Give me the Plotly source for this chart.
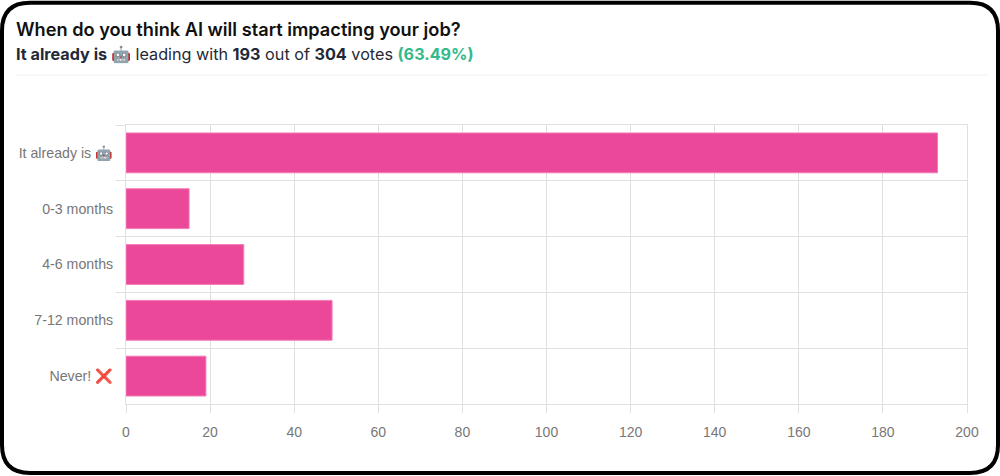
import plotly.graph_objects as go

# poll results
categories = ['It already is 🤖', '0-3 months', '4-6 months', '7-12 months', 'Never! ❌']
votes = [193, 15, 28, 49, 19]
x_ticks = [0, 20, 40, 60, 80, 100, 120, 140, 160, 180, 200]

title_text = 'When do you think AI will start impacting your job?'
subtitle_text = ("<b>It already is 🤖</b> leading with <b>193</b> out of <b>304</b> votes "
                 "<b><span style='color:#34b98a'>(63.49%)</span></b>")

W, H = 1000, 476
L, R, T, B = 126, 33, 124.5, 72


def px(x):
    return (x - L) / (W - L - R)


def py(y):
    return 1 - (y - T) / (H - T - B)


bars = go.Bar(
    x=votes,
    y=categories,
    orientation='h',
    marker=dict(color='#ec4899', line=dict(color='#f47cb8', width=1)),
    hoverinfo='x+y',
)

fig = go.Figure(data=[bars])

# rounded black frame of the card
x0, x1, y0, y1, r = px(2), px(998), py(2), py(473), 28
rx = r / (W - L - R)
ry = r / (H - T - B)
frame = (f'M {x0 + rx} {y0} L {x1 - rx} {y0} Q {x1} {y0} {x1} {y0 - ry} '
         f'L {x1} {y1 + ry} Q {x1} {y1} {x1 - rx} {y1} '
         f'L {x0 + rx} {y1} Q {x0} {y1} {x0} {y1 + ry} '
         f'L {x0} {y0 - ry} Q {x0} {y0} {x0 + rx} {y0} Z')

fig.update_layout(
    width=W,
    height=H,
    margin=dict(l=L, r=R, t=T, b=B),
    paper_bgcolor='white',
    plot_bgcolor='white',
    font=dict(family='Inter, "Noto Sans", sans-serif', color='#737373', size=13),
    bargap=0.286,
    showlegend=False,
    xaxis=dict(
        range=[0, 200],
        tickvals=x_ticks,
        showgrid=True,
        gridcolor='#e0e0e0',
        gridwidth=1,
        zeroline=False,
        showline=True,
        linecolor='#e0e0e0',
        mirror=True,
        ticks='outside',
        ticklen=8,
        tickcolor='#e0e0e0',
        ticklabelstandoff=7,
        tickfont=dict(family='Liberation Sans', size=14, color='#777777'),
    ),
    yaxis=dict(
        autorange='reversed',
        tickson='boundaries',
        showgrid=True,
        gridcolor='#e0e0e0',
        gridwidth=1,
        showline=True,
        linecolor='#e0e0e0',
        mirror=True,
        ticks='outside',
        ticklen=9,
        tickcolor='#e0e0e0',
        ticklabelstandoff=9,
        tickfont=dict(family='Liberation Sans', size=14.2, color='#777777'),
    ),
    shapes=[
        dict(type='path', path=frame, xref='paper', yref='paper',
             line=dict(color='black', width=4), fillcolor='rgba(0,0,0,0)'),
        dict(type='line', xref='paper', yref='paper', x0=px(17), x1=px(988), y0=py(74.5), y1=py(74.5),
             line=dict(color='#f1f1f1', width=1)),
    ],
    annotations=[
        dict(text=title_text, xref='paper', yref='paper', x=px(14), y=py(28), showarrow=False,
             xanchor='left', yanchor='middle', font=dict(size=18.2, color='#111111', weight=600)),
        dict(text=subtitle_text, xref='paper', yref='paper', x=px(14), y=py(53), showarrow=False,
             xanchor='left', yanchor='middle', font=dict(size=16.2, color='#1f2937')),
    ],
)

# drop the default page margin so the figure fills the window
fig.write_html("out.html", config=dict(displayModeBar=False),
               post_script="document.body.style.margin='0';document.body.style.overflow='hidden';")
